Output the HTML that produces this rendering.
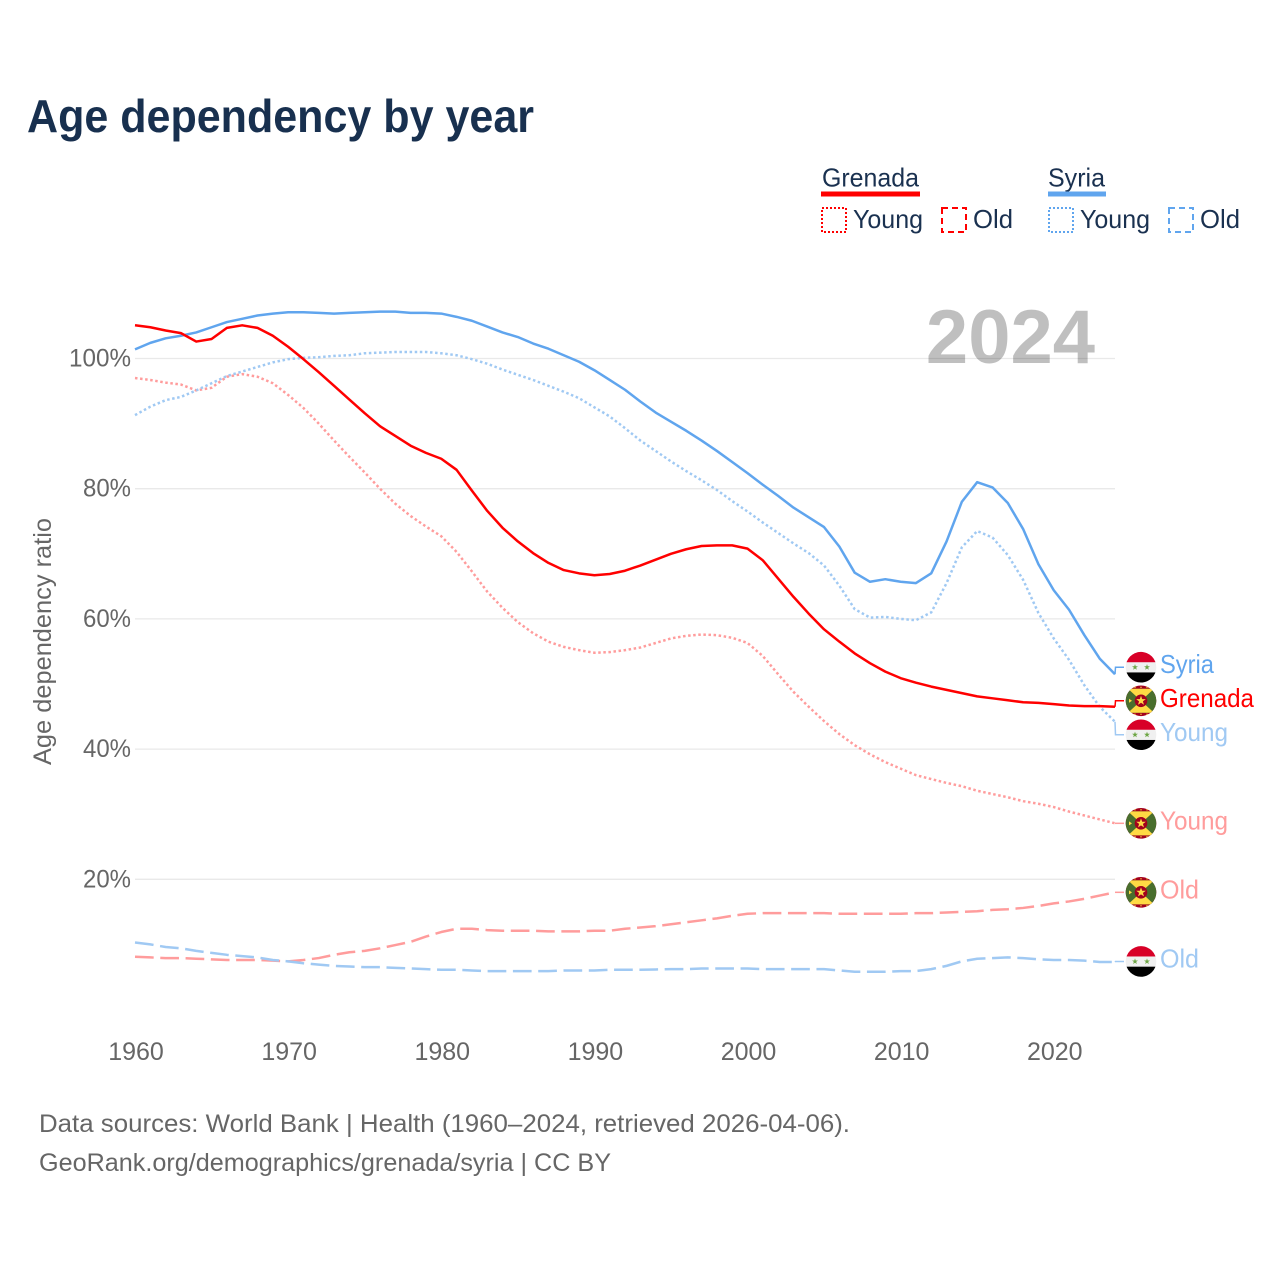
<!DOCTYPE html>
<html lang="en">
<head>
<meta charset="utf-8">
<title>Age dependency by year</title>
<style>
  html, body { margin: 0; padding: 0; background: #fff; }
  svg { display: block; font-family: "Liberation Sans", Arial, sans-serif; }
  .tick { font-size: 25px; fill: #666; }
  .foot { font-size: 25px; fill: #666; }
  .leg { font-size: 26px; fill: #1a3150; }
  .end { font-size: 26px; }
</style>
</head>
<body>
<svg id="chart" xmlns="http://www.w3.org/2000/svg" width="1280" height="1280" viewBox="0 0 1280 1280">
  <defs>
    <clipPath id="flag-clip"><circle cx="0" cy="0" r="15.3"></circle></clipPath>
    <g id="flag-syria" clip-path="url(#flag-clip)">
      <rect x="-16" y="-16" width="32" height="32" fill="#f0f0f0"></rect>
      <rect x="-16" y="-16" width="32" height="11" fill="#d80027"></rect>
      <rect x="-16" y="5.2" width="32" height="11" fill="#000"></rect>
      <polygon transform="translate(-6,0) scale(.62)" points="0,-5 1.2,-1.6 4.8,-1.6 1.9,.6 3,4 0,2 -3,4 -1.9,.6 -4.8,-1.6 -1.2,-1.6" fill="#6da544"></polygon>
      <polygon transform="translate(6,0) scale(.62)" points="0,-5 1.2,-1.6 4.8,-1.6 1.9,.6 3,4 0,2 -3,4 -1.9,.6 -4.8,-1.6 -1.2,-1.6" fill="#6da544"></polygon>
    </g>
    <g id="flag-grenada" clip-path="url(#flag-clip)">
      <rect x="-16" y="-16" width="32" height="32" fill="#a2001d"></rect>
      <rect x="-16" y="-12" width="32" height="24" fill="#496e2d"></rect>
      <polygon points="-13,-12 13,-12 0,0" fill="#ffda44"></polygon>
      <polygon points="-13,12 13,12 0,0" fill="#ffda44"></polygon>
      <circle cx="0" cy="0" r="6.3" fill="#a2001d"></circle>
      <polygon transform="scale(1)" points="0,-5 1.2,-1.6 4.8,-1.6 1.9,.6 3,4 0,2 -3,4 -1.9,.6 -4.8,-1.6 -1.2,-1.6" fill="#ffda44"></polygon>
      <polygon points="-12,-2 -9,0 -12,2" fill="#ffda44"></polygon>
      <circle cx="-6" cy="-13.5" r=".7" fill="#ffda44"></circle>
      <circle cx="0" cy="-13.5" r=".7" fill="#ffda44"></circle>
      <circle cx="6" cy="-13.5" r=".7" fill="#ffda44"></circle>
      <circle cx="-6" cy="13.5" r=".7" fill="#ffda44"></circle>
      <circle cx="0" cy="13.5" r=".7" fill="#ffda44"></circle>
      <circle cx="6" cy="13.5" r=".7" fill="#ffda44"></circle>
    </g>
  </defs>

  <rect x="0" y="0" width="1280" height="1280" fill="#fff"></rect>

  <text x="27" y="132" font-size="46" font-weight="700" fill="#18304f" textLength="507" lengthAdjust="spacingAndGlyphs">Age dependency by year</text>

  <g>
    <text class="leg" x="822" y="186.5" textLength="97" lengthAdjust="spacingAndGlyphs">Grenada</text>
    <rect x="821" y="191.5" width="99" height="5" fill="#ff0000"></rect>
    <rect x="822" y="208" width="24" height="24" fill="none" stroke="#ff0000" stroke-width="2" stroke-dasharray="2 2"></rect>
    <text class="leg" x="853" y="228" textLength="70" lengthAdjust="spacingAndGlyphs">Young</text>
    <rect x="942" y="208" width="24" height="24" fill="none" stroke="#ff0000" stroke-width="2" stroke-dasharray="6 4"></rect>
    <text class="leg" x="973" y="228" textLength="40" lengthAdjust="spacingAndGlyphs">Old</text>

    <text class="leg" x="1048" y="186.5" textLength="57" lengthAdjust="spacingAndGlyphs">Syria</text>
    <rect x="1048" y="191.5" width="58" height="5" fill="#60a5ee"></rect>
    <rect x="1049" y="208" width="24" height="24" fill="none" stroke="#60a5ee" stroke-width="2" stroke-dasharray="2 2"></rect>
    <text class="leg" x="1080" y="228" textLength="70" lengthAdjust="spacingAndGlyphs">Young</text>
    <rect x="1169" y="208" width="24" height="24" fill="none" stroke="#60a5ee" stroke-width="2" stroke-dasharray="6 4"></rect>
    <text class="leg" x="1200" y="228" textLength="40" lengthAdjust="spacingAndGlyphs">Old</text>
  </g>

  <g id="grid"></g>
  <text x="1095" y="363" text-anchor="end" font-size="76" font-weight="700" fill="#000" fill-opacity=".25">2024</text>
  <g id="series"></g>
  <g id="y-ticks"></g>
  <g id="x-ticks"></g>
  <g id="end-labels"></g>

  <text transform="translate(51,641.5) rotate(-90)" text-anchor="middle" font-size="25" fill="#666" textLength="247" lengthAdjust="spacingAndGlyphs">Age dependency ratio</text>

  <text class="foot" x="39" y="1132" textLength="811" lengthAdjust="spacingAndGlyphs">Data sources: World Bank | Health (1960–2024, retrieved 2026-04-06).</text>
  <text class="foot" x="39" y="1171" textLength="572" lengthAdjust="spacingAndGlyphs">GeoRank.org/demographics/grenada/syria | CC BY</text>
</svg>

<script>
const startYear = 1960;
const xTickLabels = [1960, 1970, 1980, 1990, 2000, 2010, 2020];
const yTickLabels = [20, 40, 60, 80, 100];

const grenadaTotal = [105.1,104.8,104.3,103.9,102.6,103.0,104.7,105.1,104.7,103.5,
  101.8,99.9,97.9,95.8,93.7,91.6,89.6,88.1,86.6,85.5,
  84.6,82.9,79.7,76.6,74.0,71.9,70.1,68.6,67.5,67.0,
  66.7,66.9,67.4,68.2,69.1,70.0,70.7,71.2,71.3,71.3,
  70.8,69.0,66.2,63.4,60.8,58.4,56.5,54.7,53.2,51.9,
  50.9,50.2,49.6,49.1,48.6,48.1,47.8,47.5,47.2,47.1,
  46.9,46.7,46.6,46.6,46.5];
const grenadaYoung = [97.0,96.7,96.3,96.0,95.1,95.5,97.2,97.6,97.2,96.2,
  94.4,92.4,90.0,87.4,84.9,82.5,80.0,77.7,75.8,74.2,
  72.7,70.3,67.3,64.2,61.7,59.5,57.8,56.5,55.7,55.2,
  54.8,54.9,55.2,55.6,56.3,57.0,57.4,57.6,57.5,57.1,
  56.3,54.3,51.5,48.8,46.5,44.3,42.3,40.6,39.2,38.0,
  37.0,36.0,35.4,34.8,34.3,33.6,33.1,32.6,32.0,31.6,
  31.1,30.4,29.8,29.2,28.6];
const grenadaOld = [8.1,8.0,7.9,7.9,7.8,7.7,7.6,7.6,7.6,7.5,
  7.4,7.6,7.9,8.4,8.8,9.0,9.4,9.9,10.4,11.2,
  11.9,12.4,12.4,12.2,12.1,12.1,12.1,12.0,12.0,12.0,
  12.1,12.1,12.4,12.6,12.8,13.1,13.4,13.7,14.0,14.4,
  14.7,14.8,14.8,14.8,14.8,14.8,14.7,14.7,14.7,14.7,
  14.7,14.8,14.8,14.9,15.0,15.1,15.3,15.4,15.6,15.9,
  16.3,16.6,17.0,17.5,18.0];
const syriaTotal = [101.4,102.4,103.1,103.5,104.0,104.8,105.6,106.1,106.6,106.9,
  107.1,107.1,107.0,106.9,107.0,107.1,107.2,107.2,107.0,107.0,
  106.9,106.4,105.8,104.9,104.0,103.3,102.3,101.5,100.5,99.5,
  98.2,96.7,95.2,93.4,91.7,90.3,88.9,87.4,85.8,84.1,
  82.4,80.6,78.9,77.1,75.6,74.1,71.1,67.1,65.7,66.1,
  65.7,65.5,67.0,71.9,78.0,81.0,80.2,77.8,73.8,68.4,
  64.4,61.4,57.5,53.9,51.5];
const syriaYoung = [91.3,92.6,93.6,94.1,95.1,96.2,97.3,98.0,98.7,99.4,
  99.9,100.1,100.2,100.4,100.5,100.8,100.9,101.0,101.0,101.0,
  100.8,100.5,99.9,99.2,98.3,97.5,96.7,95.8,94.9,93.9,
  92.5,91.1,89.3,87.4,85.8,84.2,82.7,81.3,79.8,78.1,
  76.5,74.8,73.2,71.6,70.1,68.2,65.1,61.5,60.2,60.3,
  60.0,59.8,61.0,65.5,71.0,73.5,72.5,69.8,66.0,60.9,
  57.0,53.7,49.8,46.5,44.2];
const syriaOld = [10.3,10.0,9.6,9.4,9.0,8.7,8.4,8.2,8.0,7.6,
  7.4,7.1,6.9,6.7,6.6,6.5,6.5,6.4,6.3,6.2,
  6.1,6.1,6.0,5.9,5.9,5.9,5.9,5.9,6.0,6.0,
  6.0,6.1,6.1,6.1,6.15,6.2,6.2,6.3,6.3,6.3,
  6.3,6.2,6.2,6.2,6.2,6.2,6.0,5.8,5.8,5.8,
  5.9,5.9,6.2,6.7,7.4,7.8,7.9,8.0,7.9,7.7,
  7.6,7.6,7.5,7.3,7.3];

const NS = 'http://www.w3.org/2000/svg';
const xScale = function (year) { return 135 + (year - 1960) * 15.3125; };
const yScale = function (v) { return 1009.5 - v * 6.51; };
const RED = '#ff0000', BLUE = '#60a5ee', RED_L = '#ff9c9c', BLUE_L = '#a0c9f3';
const DOT = '2.5 2.6', DASH = '18.7 6.6';

function make(tag, attrs, parent, text) {
  const el = document.createElementNS(NS, tag);
  for (const k in attrs) el.setAttribute(k, attrs[k]);
  if (text !== undefined) el.textContent = text;
  parent.appendChild(el);
  return el;
}

const gridG = document.getElementById('grid');
const yG = document.getElementById('y-ticks');
yTickLabels.forEach(function (v) {
  const line = make('line', {x1: 135, x2: 1115, y1: yScale(v), y2: yScale(v), stroke: '#e9e9e9', 'stroke-width': 1.3}, gridG);
  
  
  const label = v + '%';
  const labelWidth = label.length > 3 ? 62 : 48;
  const t = make('text', {x: 131 - labelWidth, y: yScale(v) + 8, class: 'tick', textLength: labelWidth, lengthAdjust: 'spacingAndGlyphs'}, yG, label);
  
  
});

const xG = document.getElementById('x-ticks');
xTickLabels.forEach(function (y) {
  const t = make('text', {x: xScale(y) + 1, y: 1060, 'text-anchor': 'middle', class: 'tick'}, xG, y);
  
  
});

function linePath(values) {
  return values.map(function (v, i) {
    return (i ? 'L' : 'M') + xScale(startYear + i).toFixed(2) + ' ' + yScale(v).toFixed(2);
  }).join(' ');
}

const seriesG = document.getElementById('series');
const labelsG = document.getElementById('end-labels');

function addSeries(name, values, color, width, dash) {
  const p = make('path', {d: linePath(values), fill: 'none', stroke: color, 'stroke-width': width, 'stroke-linejoin': 'round'}, seriesG);
  if (dash) p.setAttribute('stroke-dasharray', dash);
  
  
}

function addEndLabel(name, values, offset, color, flag, label, labelWidth) {
  const lastY = yScale(values[values.length - 1]);
  const cy = lastY + offset;
  const c = make('path', {d: 'M1115 ' + lastY.toFixed(2) + ' L1115.5 ' + cy.toFixed(2) + ' L1124 ' + cy.toFixed(2), fill: 'none', stroke: color, 'stroke-width': 1.5}, labelsG);
  
  
  const f = make('use', {href: '#' + flag, x: 1141, y: cy}, labelsG);
  
  
  const t = make('text', {x: 1160, y: cy + 6, fill: color, class: 'end', textLength: labelWidth, lengthAdjust: 'spacingAndGlyphs'}, labelsG, label);
  
  
}

addSeries('grenada-young-line', grenadaYoung, RED_L, 2.5, DOT);
addSeries('grenada-old-line', grenadaOld, RED_L, 2.5, DASH);
addSeries('syria-young-line', syriaYoung, BLUE_L, 2.5, DOT);
addSeries('syria-old-line', syriaOld, BLUE_L, 2.5, DASH);
addSeries('syria-total-line', syriaTotal, BLUE, 2.5);
addSeries('grenada-total-line', grenadaTotal, RED, 2.5);

addEndLabel('syria-total', syriaTotal, -7, BLUE, 'flag-syria', 'Syria', 54);
addEndLabel('grenada-total', grenadaTotal, -6, RED, 'flag-grenada', 'Grenada', 94);
addEndLabel('syria-young', syriaYoung, 13, BLUE_L, 'flag-syria', 'Young', 68);
addEndLabel('grenada-young', grenadaYoung, 0, RED_L, 'flag-grenada', 'Young', 68);
addEndLabel('grenada-old', grenadaOld, 0, RED_L, 'flag-grenada', 'Old', 39);
addEndLabel('syria-old', syriaOld, -0.5, BLUE_L, 'flag-syria', 'Old', 39);
</script>
</body>
</html>
